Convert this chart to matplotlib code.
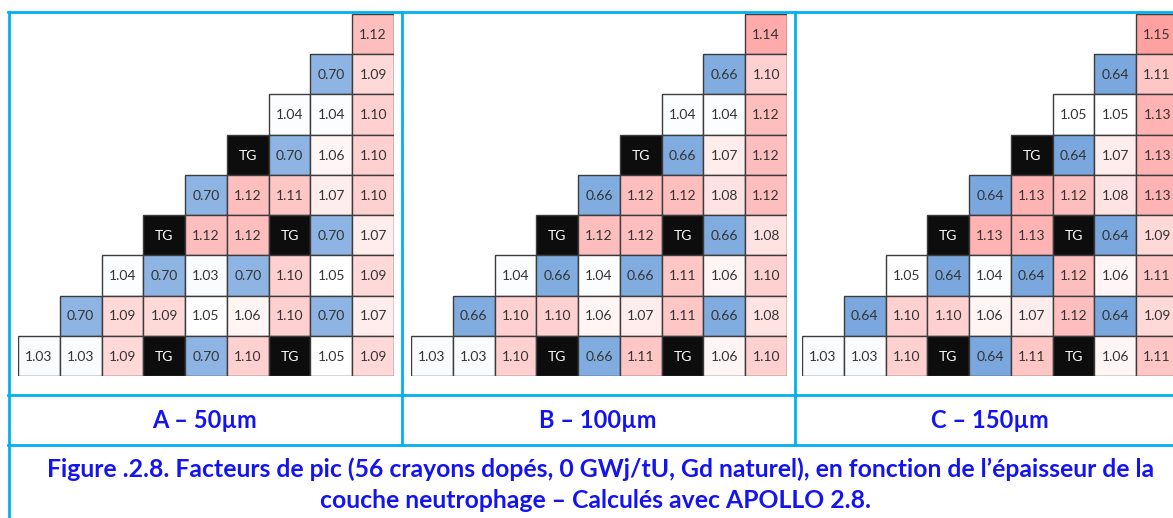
import numpy as np
import matplotlib
matplotlib.use('Agg')
import matplotlib.pyplot as plt
from matplotlib.colors import LinearSegmentedColormap, Normalize
from matplotlib.patches import Rectangle
from matplotlib.lines import Line2D

plt.rcParams['font.family'] = ['Lato', 'DejaVu Sans']

# ── Facteurs de pic, 1/8 d'assemblage (None = crayon TG) ─────────────────────
PANEL_A = [
    [1.12],
    [0.70, 1.09],
    [1.04, 1.04, 1.10],
    [None, 0.70, 1.06, 1.10],
    [0.70, 1.12, 1.11, 1.07, 1.10],
    [None, 1.12, 1.12, None, 0.70, 1.07],
    [1.04, 0.70, 1.03, 0.70, 1.10, 1.05, 1.09],
    [0.70, 1.09, 1.09, 1.05, 1.06, 1.10, 0.70, 1.07],
    [1.03, 1.03, 1.09, None, 0.70, 1.10, None, 1.05, 1.09],
]
PANEL_B = [
    [1.14],
    [0.66, 1.10],
    [1.04, 1.04, 1.12],
    [None, 0.66, 1.07, 1.12],
    [0.66, 1.12, 1.12, 1.08, 1.12],
    [None, 1.12, 1.12, None, 0.66, 1.08],
    [1.04, 0.66, 1.04, 0.66, 1.11, 1.06, 1.10],
    [0.66, 1.10, 1.10, 1.06, 1.07, 1.11, 0.66, 1.08],
    [1.03, 1.03, 1.10, None, 0.66, 1.11, None, 1.06, 1.10],
]
PANEL_C = [
    [1.15],
    [0.64, 1.11],
    [1.05, 1.05, 1.13],
    [None, 0.64, 1.07, 1.13],
    [0.64, 1.13, 1.12, 1.08, 1.13],
    [None, 1.13, 1.13, None, 0.64, 1.09],
    [1.05, 0.64, 1.04, 0.64, 1.12, 1.06, 1.11],
    [0.64, 1.10, 1.10, 1.06, 1.07, 1.12, 0.64, 1.09],
    [1.03, 1.03, 1.10, None, 0.64, 1.11, None, 1.06, 1.11],
]
PANELS = [PANEL_A, PANEL_B, PANEL_C]
PANEL_LABELS = ['A – 50µm', 'B – 100µm', 'C – 150µm']
CAPTION = ['Figure .2.8. Facteurs de pic (56 crayons dopés, 0 GWj/tU, Gd naturel), '
           'en fonction de l’épaisseur de la',
           'couche neutrophage – Calculés avec APOLLO 2.8.']

# échelle de couleur à 3 points : bleu (bas) / blanc / rouge (haut)
VMIN, VMID, VMAX = 0.60, 1.05, 1.16
cmap = LinearSegmentedColormap.from_list(
    'pic', [(0.0, '#6d9fda'), ((VMID - VMIN) / (VMAX - VMIN), '#ffffff'),
            (1.0, '#ff9999')])
norm = Normalize(VMIN, VMAX)

BORDER = '#00b0f0'
TXT_BLUE = '#1414f0'
W, H = 1173, 518

fig = plt.figure(figsize=(W / 100, H / 100), dpi=100)

# fond : cadre du tableau + légendes, en pixels
bg = fig.add_axes([0, 0, 1, 1])
bg.set_xlim(0, W)
bg.set_ylim(H, 0)
bg.axis('off')
for x0, x1, y in [(8, W, 12), (8, W, 395), (8, W, 445)]:
    bg.add_line(Line2D([x0, x1], [y, y], color=BORDER, lw=2))
for x, y1 in [(9, H), (402, 445), (795, 445)]:
    bg.add_line(Line2D([x, x], [12, y1], color=BORDER, lw=2))

centers = [205, 598, 990]
for xc, lab in zip(centers, PANEL_LABELS):
    bg.text(xc, 421, lab, ha='center', va='center', fontsize=17,
            fontweight='bold', color=TXT_BLUE)
bg.text(601, 469, CAPTION[0], ha='center', va='center', fontsize=17.8,
        fontweight='bold', color=TXT_BLUE)
bg.text(595, 500, CAPTION[1], ha='center', va='center', fontsize=17.8,
        fontweight='bold', color=TXT_BLUE)

# grilles triangulaires
n = 9
lefts = [18, 411, 802]
for left, rows in zip(lefts, PANELS):
    ax = fig.add_axes([left / W, (H - 376) / H, 376 / W, 362 / H])
    ax.set_xlim(0, n)
    ax.set_ylim(n, 0)
    ax.axis('off')
    for r, row in enumerate(rows):
        c0 = n - len(row)
        for k, v in enumerate(row):
            c = c0 + k
            if v is None:
                fc, label, tc = '#0d0d0d', 'TG', 'white'
            else:
                fc, label, tc = cmap(norm(v)), f'{v:.2f}', '#333333'
            ax.add_patch(Rectangle((c, r), 1, 1, facecolor=fc,
                                   edgecolor='#3c3c3c', lw=1.0))
            ax.text(c + 0.5, r + 0.52, label, ha='center', va='center',
                    fontsize=10, color=tc)

fig.savefig('out.png', dpi=100)
